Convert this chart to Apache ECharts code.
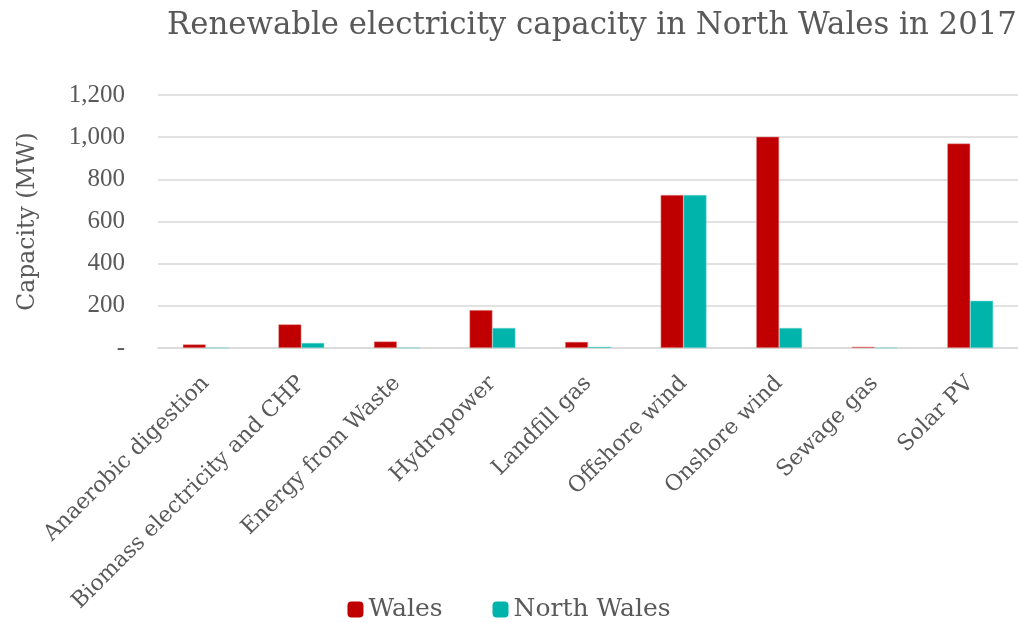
<!DOCTYPE html>
<html><head><meta charset="utf-8">
<script src="https://cdn.jsdelivr.net/npm/echarts@6/dist/echarts.min.js"></script>
<style>html,body{margin:0;padding:0;background:#fff}#c{width:1018px;height:623px}</style>
</head><body><div id="c"></div>
<script>
const categories = ['Anaerobic digestion','Biomass electricity and CHP','Energy from Waste','Hydropower','Landfill gas','Offshore wind','Onshore wind','Sewage gas','Solar PV'];
const wales = [17, 112, 31, 180, 29, 726, 1002, 6, 970];
const northWales = [1, 24, 1, 95, 6, 726, 95, 1, 224];
const seriesNames = ['Wales', 'North Wales'];
const yTicks = {min: 0, max: 1200, interval: 200};

const FONT = 'DejaVu Serif';
const NUMFONT = 'Liberation Serif';
const GREY = '#595959';
const chart = echarts.init(document.getElementById('c'));
chart.setOption({
  animation: false,
  title: {text: 'Renewable electricity capacity in North Wales in 2017', left: 587, textAlign: 'center', top: 5,
    textStyle: {fontFamily: FONT, fontSize: 30.8, fontWeight: 'normal', color: GREY}},
  legend: {bottom: -4, left: 'center', itemWidth: 16, itemHeight: 16, itemGap: 50,
    itemStyle: {borderWidth: 0},
    textStyle: {fontFamily: FONT, fontSize: 25, color: GREY}, data: seriesNames},
  grid: {left: 158, right: 0, top: 95, bottom: 275},
  xAxis: {type: 'category', data: categories,
    axisLine: {lineStyle: {color: '#d9d9d9', width: 1.5}}, axisTick: {show: false},
    axisLabel: {rotate: 45, interval: 0, margin: 32, fontFamily: FONT, fontSize: 22, color: GREY}},
  yAxis: {type: 'value', min: yTicks.min, max: yTicks.max, interval: yTicks.interval,
    name: 'Capacity (MW)', nameLocation: 'middle', nameGap: 118, nameRotate: 90,
    nameTextStyle: {fontFamily: FONT, fontSize: 23.5, color: GREY},
    axisLine: {show: false}, axisTick: {show: false},
    splitLine: {lineStyle: {color: '#d9d9d9', width: 1.5}},
    axisLabel: {margin: 33, fontFamily: NUMFONT, fontSize: 25, color: GREY,
      formatter: v => v === 0 ? '-' : v.toLocaleString('en-US')}},
  series: [
    {name: seriesNames[0], type: 'bar', data: wales, barGap: '0%', barCategoryGap: '52%',
     itemStyle: {color: '#C00000', borderColor: '#e8a0a0', borderWidth: 0.5}},
    {name: seriesNames[1], type: 'bar', data: northWales, barGap: '0%', barCategoryGap: '52%',
     itemStyle: {color: '#00B4AC', borderColor: '#80dcd6', borderWidth: 0.5}}
  ]
});
</script></body></html>
